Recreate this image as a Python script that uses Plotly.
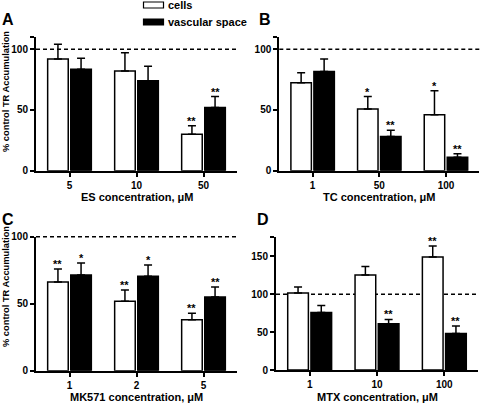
import plotly.graph_objects as go

# ---------------- data ----------------
a_cats = ["5", "10", "50"]
a_cells = [92, 82, 30]
a_cells_err = [12, 15, 7]
a_vasc = [83.5, 74, 52]
a_vasc_err = [9, 12, 9]
a_cells_sig = ["", "", "**"]
a_vasc_sig = ["", "", "**"]

b_cats = ["1", "50", "100"]
b_cells = [72.3, 50.7, 46]
b_cells_err = [8.2, 10.3, 19.7]
b_vasc = [81.7, 28.2, 11]
b_vasc_err = [10.1, 5, 3]
b_cells_sig = ["", "*", "*"]
b_vasc_sig = ["", "**", "**"]

c_cats = ["1", "2", "5"]
c_cells = [66.2, 51.8, 38]
c_cells_err = [9.7, 8.4, 4.8]
c_vasc = [71.4, 70.4, 55]
c_vasc_err = [9, 8.5, 7.5]
c_cells_sig = ["**", "**", "**"]
c_vasc_sig = ["*", "*", "**"]

d_cats = ["1", "10", "100"]
d_cells = [101.7, 125.4, 149]
d_cells_err = [7.9, 11, 14.6]
d_vasc = [75.9, 61, 48.2]
d_vasc_err = [9.2, 5.7, 9.7]
d_cells_sig = ["", "", "**"]
d_vasc_sig = ["", "**", "**"]

x_titles = ["ES concentration, μM", "TC concentration, μM",
            "MK571 concentration, μM", "MTX concentration, μM"]
panel_letters = ["A", "B", "C", "D"]
y_ranges = [110, 110, 100, 175]
y_ticks = [[0, 50, 100], [0, 50, 100], [0, 50, 100], [0, 50, 100, 150]]
ref_level = 100

# ---------------- layout geometry ----------------
W, H = 480, 404
def px_x(x): return x / W
def px_y(y): return 1 - y / H
def b(s): return f"<b>{s}</b>"

domains = [
    ([36, 237], [37, 170.7]),
    ([279.3, 479.3], [37, 170.7]),
    ([36, 237], [236.7, 370.7]),
    ([276, 478], [237.3, 370]),
]

panels = [
    (a_cats, a_cells, a_cells_err, a_vasc, a_vasc_err, a_cells_sig, a_vasc_sig),
    (b_cats, b_cells, b_cells_err, b_vasc, b_vasc_err, b_cells_sig, b_vasc_sig),
    (c_cats, c_cells, c_cells_err, c_vasc, c_vasc_err, c_cells_sig, c_vasc_sig),
    (d_cats, d_cells, d_cells_err, d_vasc, d_vasc_err, d_cells_sig, d_vasc_sig),
]

FONT = "Liberation Sans, Arial, sans-serif"
BARGAP = 0.31
OFF = (1 - BARGAP) / 4

fig = go.Figure()
annotations = []
shapes = []

for i, (cats, cel, cel_e, vas, vas_e, cs, vs) in enumerate(panels):
    n = i + 1
    xa = "x" if n == 1 else f"x{n}"
    ya = "y" if n == 1 else f"y{n}"
    err_common = dict(type="data", symmetric=False, color="black",
                      thickness=1.5, width=4)
    fig.add_trace(go.Bar(
        x=cats, y=cel, name="cells", xaxis=xa, yaxis=ya,
        marker=dict(color="white", line=dict(color="black", width=1.5)),
        error_y=dict(array=cel_e, arrayminus=[0] * len(cel_e), **err_common),
        showlegend=False))
    fig.add_trace(go.Bar(
        x=cats, y=vas, name="vascular space", xaxis=xa, yaxis=ya,
        marker=dict(color="black", line=dict(color="black", width=1.5)),
        error_y=dict(array=vas_e, arrayminus=[0] * len(vas_e), **err_common),
        showlegend=False))

    (x0, x1), (yt, yb) = domains[i]
    top = y_ranges[i]
    tv = y_ticks[i] + [top]
    tt = [b(t) for t in y_ticks[i]] + [""]
    dom_y = [px_y(yb), px_y(yt)]
    fig.layout[f"xaxis{'' if n == 1 else n}"] = dict(
        domain=[px_x(x0), px_x(x1)], anchor=ya, type="category",
        range=[-0.5, len(cats) - 0.5],
        tickmode="array", tickvals=cats, ticktext=[b(c) for c in cats],
        showline=True, linecolor="black", linewidth=2,
        ticks="outside", ticklen=4, tickwidth=1.5, tickcolor="black",
        tickfont=dict(family=FONT, size=10, color="black"),
        showgrid=False, zeroline=False, fixedrange=True, automargin=False)
    fig.layout[f"yaxis{'' if n == 1 else n}"] = dict(
        domain=dom_y, anchor=xa,
        range=[0, top], tickmode="array", tickvals=tv, ticktext=tt,
        showline=True, linecolor="black", linewidth=2,
        ticks="outside", ticklen=4, tickwidth=1.5, tickcolor="black",
        tickfont=dict(family=FONT, size=10, color="black"),
        showgrid=False, zeroline=False, fixedrange=True, automargin=False)

    # dashed 100% reference line (paper coords so it is never clipped)
    yline = dom_y[0] + (ref_level / top) * (dom_y[1] - dom_y[0])
    shapes.append(dict(type="line", xref="paper", yref="paper",
                       x0=px_x(x0), x1=px_x(x1), y0=yline, y1=yline,
                       layer="below",
                       line=dict(color="black", width=1.5, dash="4px,3px")))

    # significance marks
    for k in range(len(cats)):
        for sig, val, err, off in ((cs[k], cel[k], cel_e[k], -OFF),
                                   (vs[k], vas[k], vas_e[k], OFF)):
            if sig:
                annotations.append(dict(
                    x=k + off, y=val + err, xref=xa, yref=ya,
                    text=b(sig), showarrow=False, yanchor="bottom", yshift=-3,
                    font=dict(family=FONT, size=11, color="black")))

    # x title
    xc = (x0 + x1) / 2
    ty = 196.7 if i < 2 else 397
    annotations.append(dict(
        x=px_x(xc), y=px_y(ty), xref="paper", yref="paper",
        text=b(x_titles[i]), showarrow=False, xanchor="center", yanchor="middle",
        font=dict(family=FONT, size=11, color="black")))

    # panel letter
    lx = 0 if i % 2 == 0 else (257 if i == 1 else 255)
    ly = 19 if i < 2 else 219.5
    annotations.append(dict(
        x=px_x(lx), y=px_y(ly), xref="paper", yref="paper",
        text=b(panel_letters[i]), showarrow=False, xanchor="left", yanchor="middle",
        font=dict(family=FONT, size=16, color="black")))

# y-axis titles (left column)
for cy in (92, 287):
    annotations.append(dict(
        x=px_x(6), y=px_y(cy), xref="paper", yref="paper",
        text=b("% control TR Accumulation"), showarrow=False, textangle=-90,
        xanchor="center", yanchor="middle",
        font=dict(family=FONT, size=9.3, color="black")))

# legend (drawn manually)
legend_items = [("cells", "white", 5), ("vascular space", "black", 22)]
for label, color, cy in legend_items:
    shapes.append(dict(type="rect", xref="paper", yref="paper",
                       x0=px_x(143.5), x1=px_x(163.5),
                       y0=px_y(cy + 3), y1=px_y(cy - 3),
                       fillcolor=color, line=dict(color="black", width=1.2)))
    annotations.append(dict(
        x=px_x(166), y=px_y(cy), xref="paper", yref="paper",
        text=b(label), showarrow=False, xanchor="left", yanchor="middle",
        font=dict(family=FONT, size=11, color="black")))

fig.update_layout(
    width=W, height=H, margin=dict(l=0, r=0, t=0, b=0, pad=0),
    paper_bgcolor="white", plot_bgcolor="white",
    barmode="group", bargap=BARGAP, bargroupgap=0.11,
    showlegend=False, annotations=annotations, shapes=shapes,
    font=dict(family=FONT, color="black"))

fig.write_html("out.html", config={"displayModeBar": False},
               post_script="document.body.style.margin='0';document.body.style.overflow='hidden';")
